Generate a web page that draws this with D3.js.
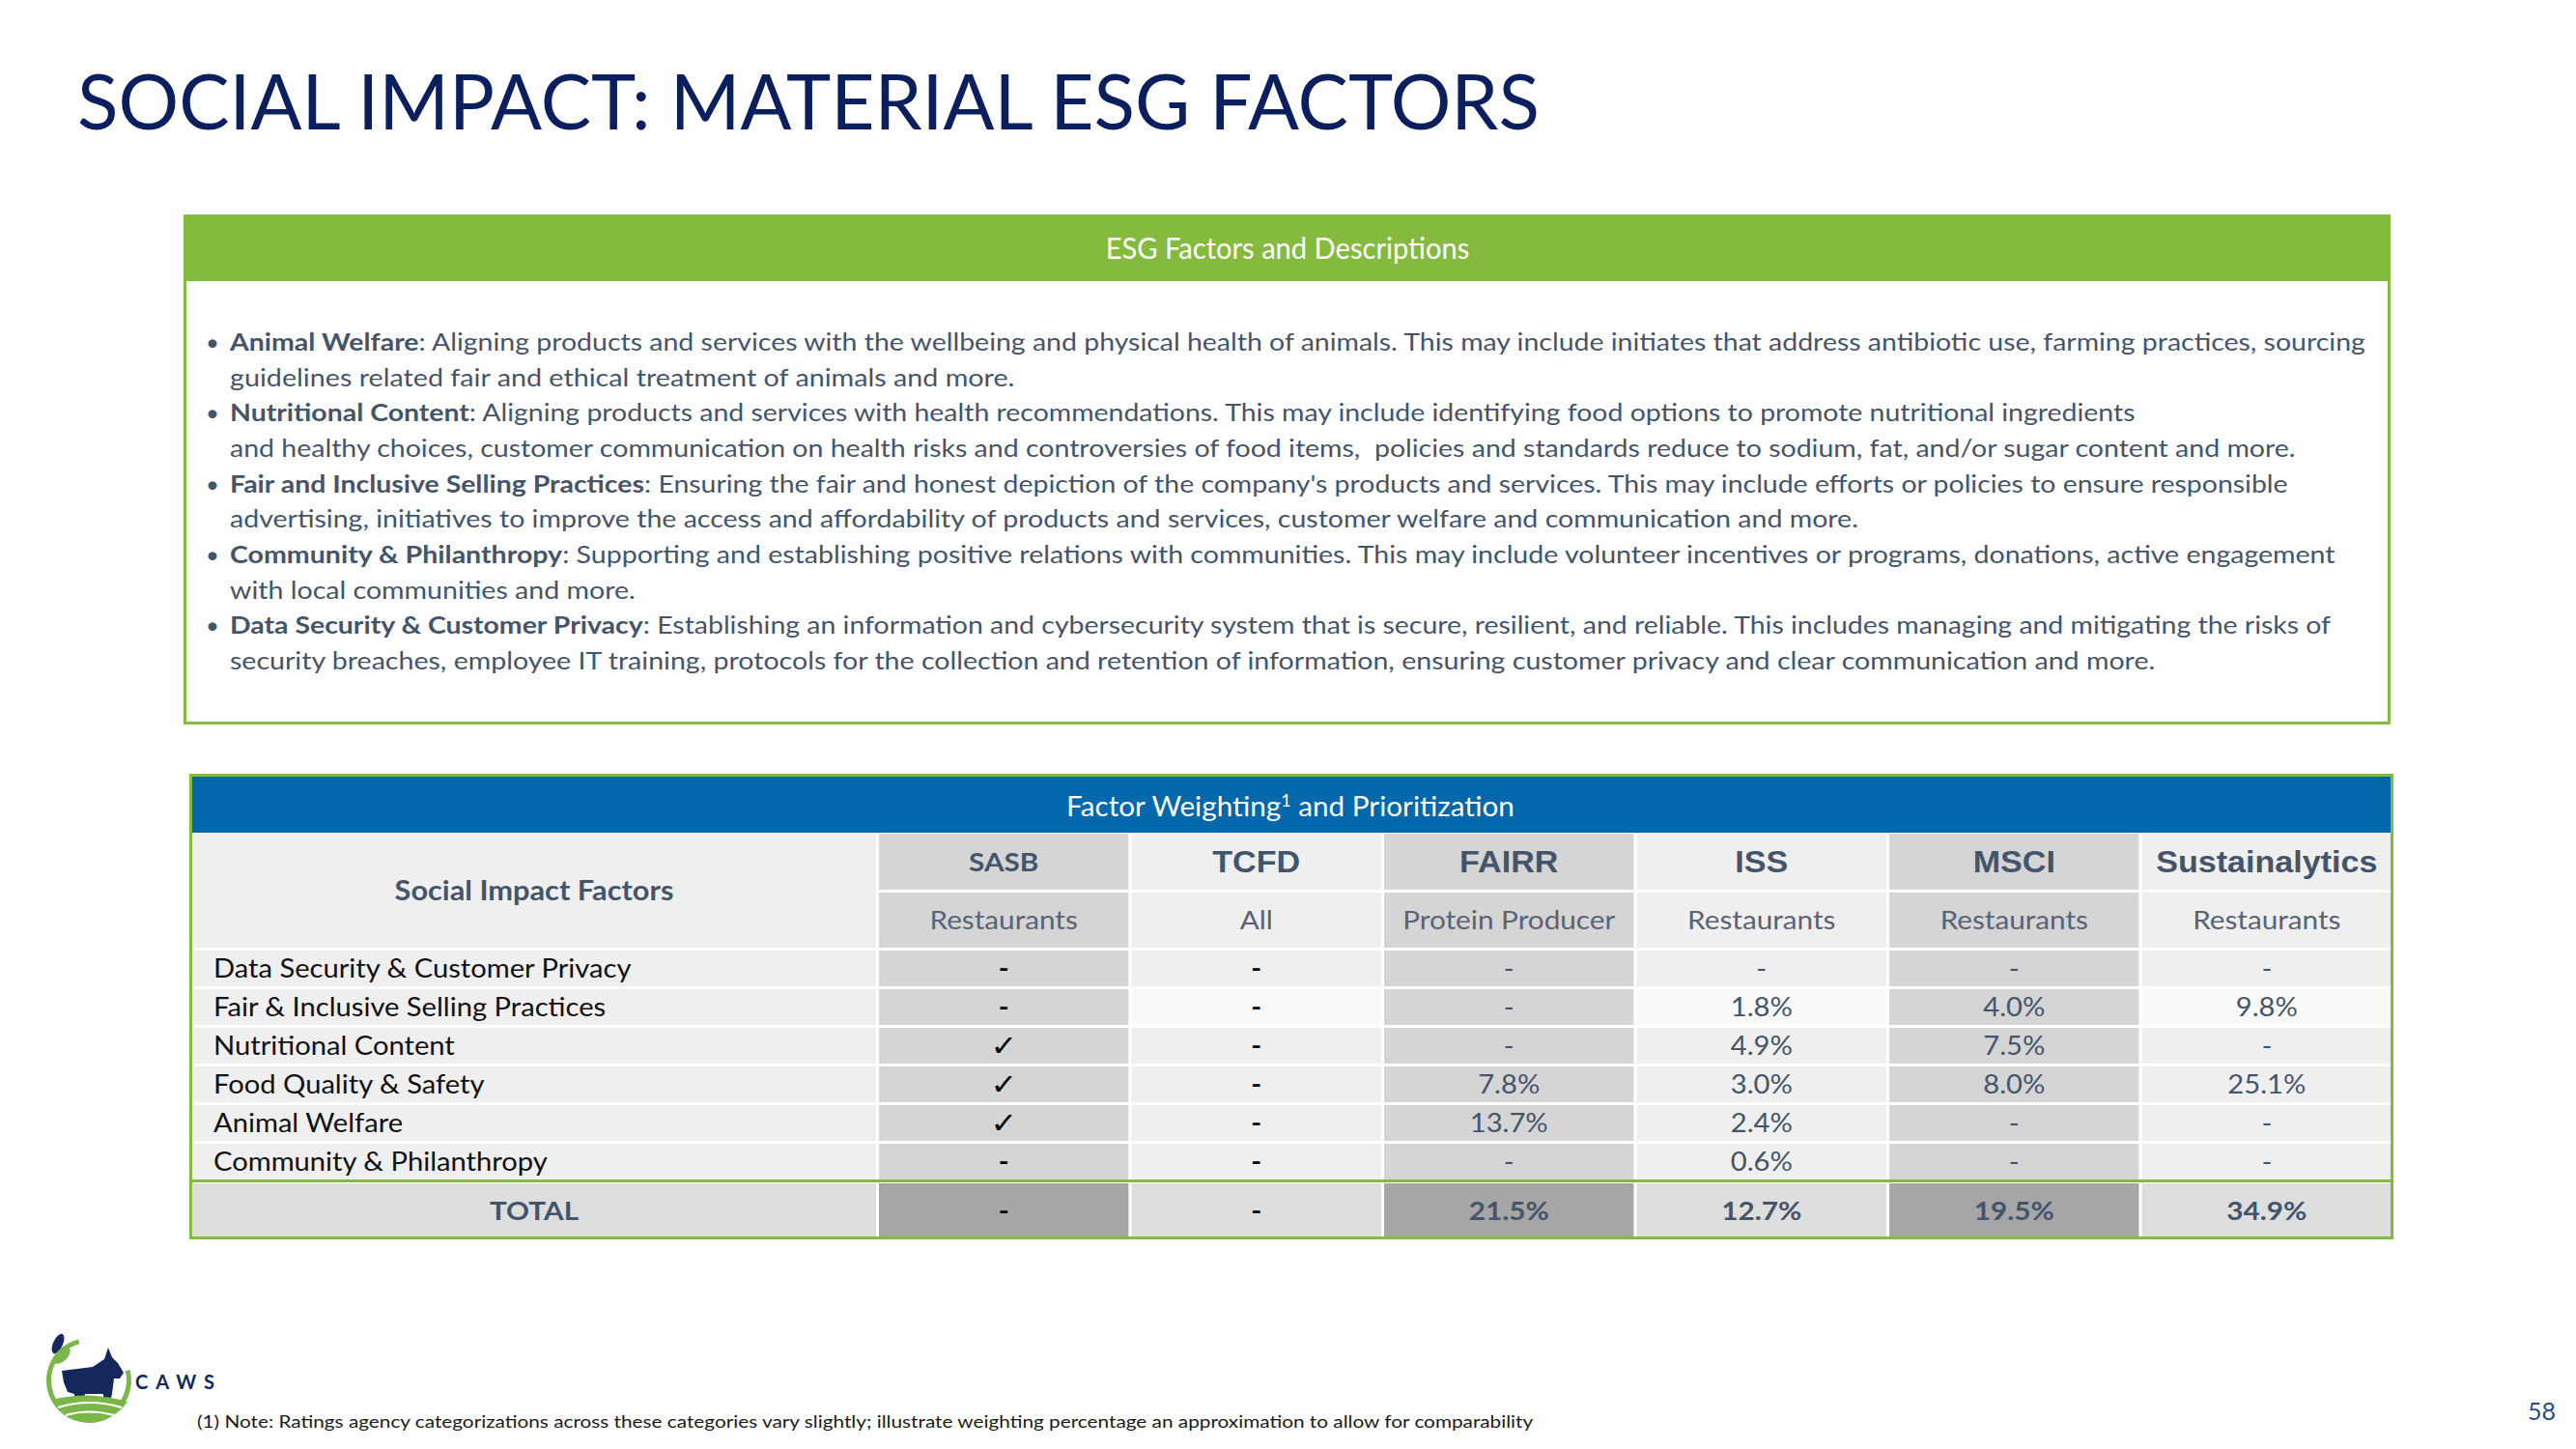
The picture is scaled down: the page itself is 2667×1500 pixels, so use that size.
<!DOCTYPE html>
<html><head><meta charset="utf-8">
<script src="https://cdn.jsdelivr.net/npm/d3@7"></script>
<style>
body{margin:0;background:#fff}
svg{display:block}
text{font-family:Lato,"Open Sans",sans-serif;white-space:pre}
</style>
</head><body>
<svg id="c" width="2667" height="1500"></svg>
<script>
// ---------------- data ----------------
const titleText = "SOCIAL IMPACT: MATERIAL ESG FACTORS";
const descHeader = "ESG Factors and Descriptions";
const descBold = ["Animal Welfare", "", "Nutritional Content", "", "Fair and Inclusive Selling Practices", "", "Community & Philanthropy", "", "Data Security & Customer Privacy", ""];
const descRest = [
  ": Aligning products and services with the wellbeing and physical health of animals. This may include initiates that address antibiotic use, farming practices, sourcing",
  "guidelines related fair and ethical treatment of animals and more.",
  ": Aligning products and services with health recommendations. This may include identifying food options to promote nutritional ingredients",
  "and healthy choices, customer communication on health risks and controversies of food items,  policies and standards reduce to sodium, fat, and/or sugar content and more.",
  ": Ensuring the fair and honest depiction of the company's products and services. This may include efforts or policies to ensure responsible",
  "advertising, initiatives to improve the access and affordability of products and services, customer welfare and communication and more.",
  ": Supporting and establishing positive relations with communities. This may include volunteer incentives or programs, donations, active engagement",
  "with local communities and more.",
  ": Establishing an information and cybersecurity system that is secure, resilient, and reliable. This includes managing and mitigating the risks of",
  "security breaches, employee IT training, protocols for the collection and retention of information, ensuring customer privacy and clear communication and more."
];
const tableHeader = "Factor Weighting";
const tableHeaderTail = " and Prioritization";
const firstColHeader = "Social Impact Factors";
const factors = ["Data Security & Customer Privacy", "Fair & Inclusive Selling Practices", "Nutritional Content", "Food Quality & Safety", "Animal Welfare", "Community & Philanthropy"];
const agencies = ["SASB", "TCFD", "FAIRR", "ISS", "MSCI", "Sustainalytics"];
const industries = ["Restaurants", "All", "Protein Producer", "Restaurants", "Restaurants", "Restaurants"];
const sasbVals = ["-", "-", "check", "check", "check", "-"];
const tcfdVals = ["-", "-", "-", "-", "-", "-"];
const fairrVals = [null, null, null, 7.8, 13.7, null];
const issVals = [null, 1.8, 4.9, 3.0, 2.4, 0.6];
const msciVals = [null, 4.0, 7.5, 8.0, null, null];
const sustVals = [null, 9.8, null, 25.1, null, null];
const totals = ["-", "-", 21.5, 12.7, 19.5, 34.9];
const footnote = "(1) Note: Ratings agency categorizations across these categories vary slightly; illustrate weighting percentage an approximation to allow for comparability";
const pageNum = "58";

// ---------------- layout ----------------
const W = 2667, H = 1500;
const navy = "#0b1f5e", green = "#84bb3f", blue = "#0068ab", slate = "#44546a";
const lightCell = "#efefef", darkCell = "#d5d5d5", fairLight = "#f9f9f9";
const totalLight = "#dedede", totalDark = "#a6a6a6";
const descLineWidths = [2213, 813, 1973, 2140, 2131, 1687, 2181, 420, 2176, 1994];
const TK = 1.1; // horizontal stretch for table text (Calibri-like widths)

const svg = d3.select("#c");
svg.append("rect").attr("width", W).attr("height", H).attr("fill", "#fff");

// text helper: optional fit to a target width, or a fixed horizontal factor k
function fitText(parent, x, y, width, anchor, build, k) {
  const g = parent.append("g").attr("transform", `translate(${x},${y})`);
  const t = g.append("text").attr("text-anchor", anchor);
  build(t);
  if (width) {
    const w = t.node().getBBox().width;
    if (w > 0) t.attr("transform", `scale(${width / w},1)`);
  } else if (k) {
    t.attr("transform", `scale(${k},1)`);
  }
  return t;
}
const tText = (x, y, anchor, build) => fitText(svg, x, y, null, anchor, build, TK);

// title
fitText(svg, 80, 134, 1514, "start", t => t.text(titleText)
  .attr("font-size", 79).attr("font-weight", 400).attr("fill", navy));

// ---------------- description box ----------------
const box = { x0: 190, x1: 2475, y0: 222, y1: 750, hb: 291 };
svg.append("rect").attr("x", box.x0 + 1.5).attr("y", box.y0 + 1.5)
  .attr("width", box.x1 - box.x0 - 3).attr("height", box.y1 - box.y0 - 3)
  .attr("fill", "#fff").attr("stroke", green).attr("stroke-width", 3);
svg.append("rect").attr("x", box.x0).attr("y", box.y0)
  .attr("width", box.x1 - box.x0).attr("height", box.hb - box.y0).attr("fill", green);
fitText(svg, 1333, 268, 377, "middle", t => t.text(descHeader)
  .attr("font-size", 30).attr("fill", "#fff"));

const lineY = d3.scaleLinear().domain([0, 9]).range([363, 693]);
descRest.forEach((rest, i) => {
  const y = lineY(i);
  if (descBold[i]) {
    svg.append("text").attr("x", 213).attr("y", y).attr("font-size", 24)
      .attr("fill", slate).text("•");
  }
  fitText(svg, 238, y, descLineWidths[i], "start", t => {
    t.attr("font-size", 25).attr("fill", slate);
    if (descBold[i]) t.append("tspan").attr("font-weight", 700).text(descBold[i]);
    t.append("tspan").text(rest);
  });
});

// ---------------- factor table ----------------
const tb = { x0: 196, x1: 2478, y0: 801, y1: 1283 };
const xCol = d3.scaleBand().domain(agencies).range([910, 2476]).paddingInner(0.012);
const yRow = d3.scaleBand().domain(factors).range([984, 1221]).paddingInner(0.075);
const firstCol = { x: 199, w: 708 };
const hdr1 = { y: 863, h: 58 }, hdr2 = { y: 924, h: 57 }, tot = { y: 1225, h: 56 };
const isDark = a => ["SASB", "FAIRR", "MSCI"].includes(a);

svg.append("rect").attr("x", tb.x0).attr("y", tb.y0)
  .attr("width", tb.x1 - tb.x0).attr("height", tb.y1 - tb.y0).attr("fill", "#fff");
// blue header
svg.append("rect").attr("x", tb.x0).attr("y", tb.y0)
  .attr("width", tb.x1 - tb.x0).attr("height", 862 - tb.y0).attr("fill", blue);
fitText(svg, 1336, 845, 464, "middle", t => {
  t.attr("font-size", 28).attr("fill", "#fff");
  t.append("tspan").text(tableHeader);
  t.append("tspan").attr("font-size", 17).attr("dy", -10).text("1");
  t.append("tspan").attr("dy", 10).text(tableHeaderTail);
});

// first column header (merged)
svg.append("rect").attr("x", firstCol.x).attr("y", hdr1.y)
  .attr("width", firstCol.w).attr("height", hdr2.y + hdr2.h - hdr1.y).attr("fill", lightCell);
fitText(svg, firstCol.x + firstCol.w / 2, 922, 289, "middle", t => t.text(firstColHeader)
  .attr("font-size", 29).attr("font-weight", 700).attr("fill", slate).attr("dy", "0.36em"));

// agency headers
agencies.forEach((a, j) => {
  const x = xCol(a), w = xCol.bandwidth(), cx = x + w / 2;
  svg.append("rect").attr("x", x).attr("y", hdr1.y).attr("width", w).attr("height", hdr1.h)
    .attr("fill", isDark(a) ? darkCell : lightCell);
  svg.append("rect").attr("x", x).attr("y", hdr2.y).attr("width", w).attr("height", hdr2.h)
    .attr("fill", isDark(a) ? darkCell : lightCell);
  tText(cx, hdr1.y + hdr1.h / 2, "middle", t => {
    t.attr("dy", "0.36em").attr("fill", slate).attr("font-weight", 700).text(a);
    if (a === "SASB") t.attr("font-size", 27);
    else t.attr("font-size", 31).style("font-family", "'Liberation Sans', Arial, sans-serif");
  });
  tText(cx, hdr2.y + hdr2.h / 2, "middle", t => t.attr("dy", "0.36em")
    .attr("font-size", 27).attr("fill", "#5b6373").text(industries[j]));
});

// body rows
const matrix = [sasbVals, tcfdVals, fairrVals, issVals, msciVals, sustVals];
const fmt = v => (v === null ? "-" : d3.format(".1f")(v) + "%");
factors.forEach((f, i) => {
  const y = yRow(f), h = yRow.bandwidth(), cy = y + h / 2;
  svg.append("rect").attr("x", firstCol.x).attr("y", y).attr("width", firstCol.w).attr("height", h)
    .attr("fill", lightCell);
  tText(221, cy, "start", t => t.attr("dy", "0.36em")
    .attr("font-size", 26.5).attr("fill", "#111").text(f));
  agencies.forEach((a, j) => {
    const x = xCol(a), w = xCol.bandwidth();
    const fill = isDark(a) ? darkCell : (i === 1 ? fairLight : lightCell);
    svg.append("rect").attr("x", x).attr("y", y).attr("width", w).attr("height", h).attr("fill", fill);
    const v = matrix[j][i];
    tText(x + w / 2, cy, "middle", t => {
      t.attr("dy", "0.36em").attr("font-size", 26.5);
      if (j < 2) {
        if (v === "check") t.style("font-family", "'DejaVu Sans', sans-serif").attr("font-size", 30).attr("fill", "#000").text("✓");
        else t.attr("fill", "#000").attr("font-weight", 700).text(v);
      } else {
        t.attr("fill", slate).text(fmt(v));
      }
    });
  });
});

// total row
svg.append("rect").attr("x", firstCol.x).attr("y", tot.y).attr("width", firstCol.w).attr("height", tot.h)
  .attr("fill", totalLight);
tText(firstCol.x + firstCol.w / 2, tot.y + tot.h / 2, "middle", t => t.attr("dy", "0.36em")
  .attr("font-size", 27).attr("font-weight", 700).attr("fill", slate).text("TOTAL"));
agencies.forEach((a, j) => {
  const x = xCol(a), w = xCol.bandwidth();
  svg.append("rect").attr("x", x).attr("y", tot.y).attr("width", w).attr("height", tot.h)
    .attr("fill", isDark(a) ? totalDark : totalLight);
  const v = totals[j];
  tText(x + w / 2, tot.y + tot.h / 2, "middle", t => t.attr("dy", "0.36em")
    .attr("font-size", 27).attr("font-weight", 700).attr("fill", j < 2 ? "#000" : slate)
    .text(typeof v === "number" ? d3.format(".1f")(v) + "%" : v));
});

// frame lines
svg.append("rect").attr("x", tb.x0 + 1.5).attr("y", tb.y0 + 1.5)
  .attr("width", tb.x1 - tb.x0 - 3).attr("height", tb.y1 - tb.y0 - 3)
  .attr("fill", "none").attr("stroke", green).attr("stroke-width", 3);
svg.append("line").attr("x1", tb.x0).attr("x2", tb.x1).attr("y1", 1222.5).attr("y2", 1222.5)
  .attr("stroke", green).attr("stroke-width", 3);

// ---------------- footer ----------------
fitText(svg, 204, 1478, 1385, "start", t => t.text(footnote)
  .attr("font-size", 18).attr("fill", "#1a1a1a"));
svg.append("text").attr("x", 2646).attr("y", 1470).attr("text-anchor", "end")
  .attr("font-size", 25).attr("fill", "#1f4e8c").text(pageNum);

// logo
const logo = svg.append("g").attr("transform", "translate(48,1381)");
const ring = d3.arc().innerRadius(39).outerRadius(44);
logo.append("path").attr("transform", "translate(44,48)")
  .attr("d", ring({ startAngle: -Math.PI * 0.08, endAngle: -Math.PI * 1.15 }))
  .attr("fill", "#7ab648");
logo.append("path").attr("transform", "translate(44,48)")
  .attr("d", ring({ startAngle: Math.PI * 0.42, endAngle: Math.PI * 0.85 }))
  .attr("fill", "#7ab648");
logo.append("ellipse").attr("cx", 12).attr("cy", 10).attr("rx", 5).attr("ry", 11)
  .attr("transform", "rotate(25,12,10)").attr("fill", "#14285e");
logo.append("ellipse").attr("cx", 16).attr("cy", 22).attr("rx", 6).attr("ry", 11)
  .attr("transform", "rotate(45,16,22)").attr("fill", "#7ab648");
logo.append("path").attr("fill", "#14285e")
  .attr("d", "M16,38 L48,34 L60,26 L64,14 L68,24 L74,30 L80,40 L76,46 L70,46 L68,62 L64,78 L59,78 L59,62 L40,62 L36,80 L30,80 L29,62 L22,60 L18,50 Z");
logo.append("path").attr("fill", "#7ab648")
  .attr("d", "M6,68 Q44,58 84,70 Q70,90 44,92 Q18,88 6,68 Z");
logo.append("path").attr("fill", "none").attr("stroke", "#fff").attr("stroke-width", 2)
  .attr("d", "M12,76 Q44,66 78,76 M20,84 Q44,77 70,84");
svg.append("text").attr("x", 140).attr("y", 1438).attr("font-size", 20).attr("font-weight", 700)
  .attr("letter-spacing", 8).attr("fill", "#14285e").text("CAWS");
</script>
</body></html>
